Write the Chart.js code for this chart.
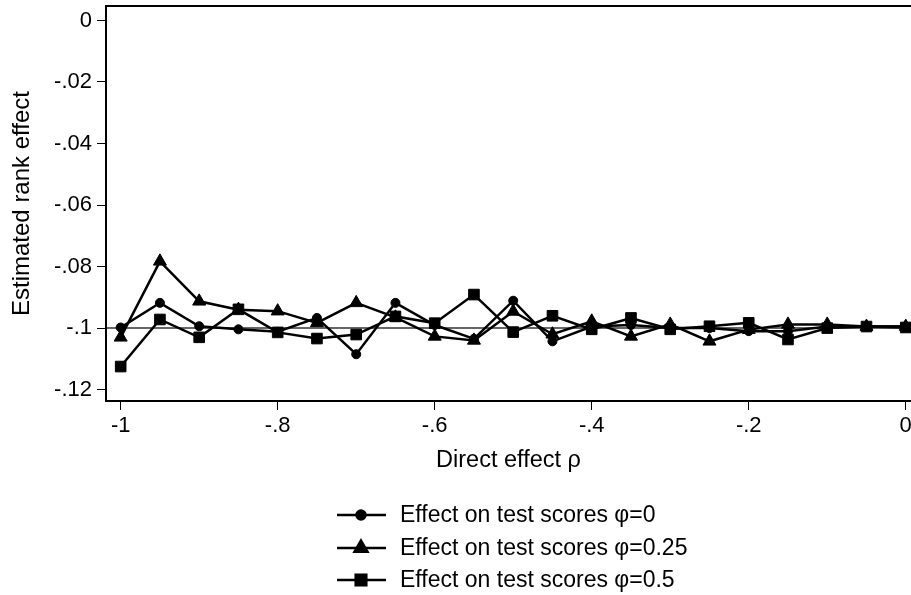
<!DOCTYPE html>
<html>
<head>
<meta charset="utf-8">
<script src="https://cdn.jsdelivr.net/npm/chart.js@4.4.0/dist/chart.umd.min.js"></script>
<style>
  html, body { margin: 0; padding: 0; background: #fff; overflow: hidden; }
  #wrap { width: 911px; height: 595px; position: relative; }
</style>
</head>
<body>
<div id="wrap"><canvas id="js_rank_chart"></canvas></div>
<script>
// direct effect rho on x axis
const rhoValues = [-1, -0.95, -0.9, -0.85, -0.8, -0.75, -0.7, -0.65, -0.6, -0.55, -0.5,
  -0.45, -0.4, -0.35, -0.3, -0.25, -0.2, -0.15, -0.1, -0.05, 0]

// estimated rank effect
const phi0 = [-0.0998, -0.0918, -0.0994, -0.1004, -0.1012, -0.0967, -0.1085, -0.0918, -0.0990, -0.1035, -0.0911,
  -0.1043, -0.0995, -0.0990, -0.1000, -0.1000, -0.1010, -0.1010, -0.0995, -0.0995, -0.0995]
const phi025 = [-0.1030, -0.0783, -0.0913, -0.0940, -0.0945, -0.0983, -0.0918, -0.0965, -0.1027, -0.1040, -0.0946,
  -0.1020, -0.0978, -0.1027, -0.0988, -0.1043, -0.1005, -0.0988, -0.0988, -0.0995, -0.0995]
const phi05 = [-0.1125, -0.0972, -0.1030, -0.0939, -0.1014, -0.1034, -0.1021, -0.0962, -0.0984, -0.0891, -0.1013,
  -0.0960, -0.1004, -0.0967, -0.1004, -0.0994, -0.0983, -0.1037, -0.1000, -0.0995, -0.0998]

const seriesLabels = ['Effect on test scores \u03C6=0', 'Effect on test scores \u03C6=0.25', 'Effect on test scores \u03C6=0.5']
const seriesMarkers = ['circle', 'triangle', 'rect']
const markerSizes = [4.5, 7.5, 7.5]

const refValue = -0.1
const xTicks = [-1, -0.8, -0.6, -0.4, -0.2, 0]
const yTicks = [0, -0.02, -0.04, -0.06, -0.08, -0.1, -0.12]

const font = "'Liberation Sans', Arial, sans-serif"

// stata style labels: -.02 instead of -0.02
function stataLabel(v) {
  if (Math.abs(v) < 1e-9) return '0'
  let s = String(Math.round(v * 1000) / 1000)
  return s.replace('0.', '.')
}

function toPoints(ys) {
  return rhoValues.map((x, i) => ({x: x, y: ys[i]}))
}

const allSeries = [phi0, phi025, phi05]

const datasets = allSeries.map((ys, i) => ({
  label: seriesLabels[i],
  data: toPoints(ys),
  borderColor: '#000',
  backgroundColor: '#000',
  borderWidth: 2.5,
  pointStyle: seriesMarkers[i],
  pointRadius: markerSizes[i],
  pointBorderWidth: 1,
  fill: false,
  tension: 0,
  clip: false,
}))

const framePlugin = {
  id: 'frame',
  beforeDatasetsDraw(chart) {
    const {ctx, chartArea, scales} = chart
    const y = scales.y.getPixelForValue(refValue)
    ctx.save()
    ctx.strokeStyle = '#666'
    ctx.lineWidth = 2
    ctx.beginPath()
    ctx.moveTo(chartArea.left, y)
    ctx.lineTo(chartArea.right, y)
    ctx.stroke()
    ctx.restore()
  },
  afterDraw(chart) {
    const {ctx, chartArea} = chart
    ctx.save()
    ctx.strokeStyle = '#000'
    ctx.lineWidth = 2
    // plot box: right side falls outside the picture
    ctx.beginPath()
    ctx.moveTo(chartArea.right + 2, chartArea.top)
    ctx.lineTo(chartArea.left, chartArea.top)
    ctx.lineTo(chartArea.left, chartArea.bottom)
    ctx.lineTo(chartArea.right + 2, chartArea.bottom)
    ctx.stroke()

    // legend, one entry per row
    const x0 = 337, x1 = 386, xm = 361, tx = 400
    const rows = [515, 548, 580]
    ctx.font = '23px ' + font
    ctx.textBaseline = 'middle'
    ctx.fillStyle = '#000'
    chart.data.datasets.forEach((ds, i) => {
      const ry = rows[i]
      ctx.lineWidth = 2.5
      ctx.beginPath()
      ctx.moveTo(x0, ry)
      ctx.lineTo(x1, ry)
      ctx.stroke()
      Chart.helpers.drawPoint(ctx, {pointStyle: ds.pointStyle, radius: ds.pointRadius, borderWidth: 1}, xm, ry)
      ctx.fill()
      ctx.fillText(ds.label, tx, ry + 1)
    })
    ctx.restore()
  }
}

function rankChart() {
  const config = {
    type: 'line',
    data: { datasets },
    options: {
      responsive: true,
      maintainAspectRatio: false,
      animation: false,
      layout: { autoPadding: false, padding: { top: 6, right: 0, bottom: 120, left: 0 } },
      plugins: { legend: { display: false }, tooltip: { enabled: false } },
      scales: {
        x: {
          type: 'linear',
          min: -1.0187,
          max: 0.0067,
          afterBuildTicks(axis) { axis.ticks = xTicks.map(v => ({value: v})) },
          afterFit(axis) { axis.height = 74; axis.paddingLeft = 0; axis.paddingRight = 0 },
          grid: { display: true, drawOnChartArea: false, drawTicks: true, tickLength: 9, tickColor: '#000', tickWidth: 1 },
          border: { display: false },
          ticks: { color: '#000', font: { family: font, size: 22 }, padding: 3, maxRotation: 0,
            callback: v => stataLabel(v) },
          title: { display: true, text: 'Direct effect \u03C1', color: '#000',
            font: { family: font, size: 23.5 }, padding: { top: 2, bottom: 0 } }
        },
        y: {
          type: 'linear',
          min: -0.1237,
          max: 0.0047,
          afterBuildTicks(axis) { axis.ticks = yTicks.map(v => ({value: v})) },
          afterFit(axis) { axis.width = 106; axis.paddingTop = 0; axis.paddingBottom = 0 },
          grid: { display: true, drawOnChartArea: false, drawTicks: true, tickLength: 9, tickColor: '#000', tickWidth: 1 },
          border: { display: false },
          ticks: { color: '#000', font: { family: font, size: 22 }, padding: 5,
            callback: v => stataLabel(v) },
          title: { display: true, text: 'Estimated rank effect', color: '#000',
            font: { family: font, size: 24 }, padding: { top: 8, bottom: 0 } }
        }
      }
    },
    plugins: [framePlugin]
  }

  const ctx = document.getElementById('js_rank_chart').getContext('2d')
  const chart = new Chart(ctx, config)
}

rankChart()
</script>
</body>
</html>
